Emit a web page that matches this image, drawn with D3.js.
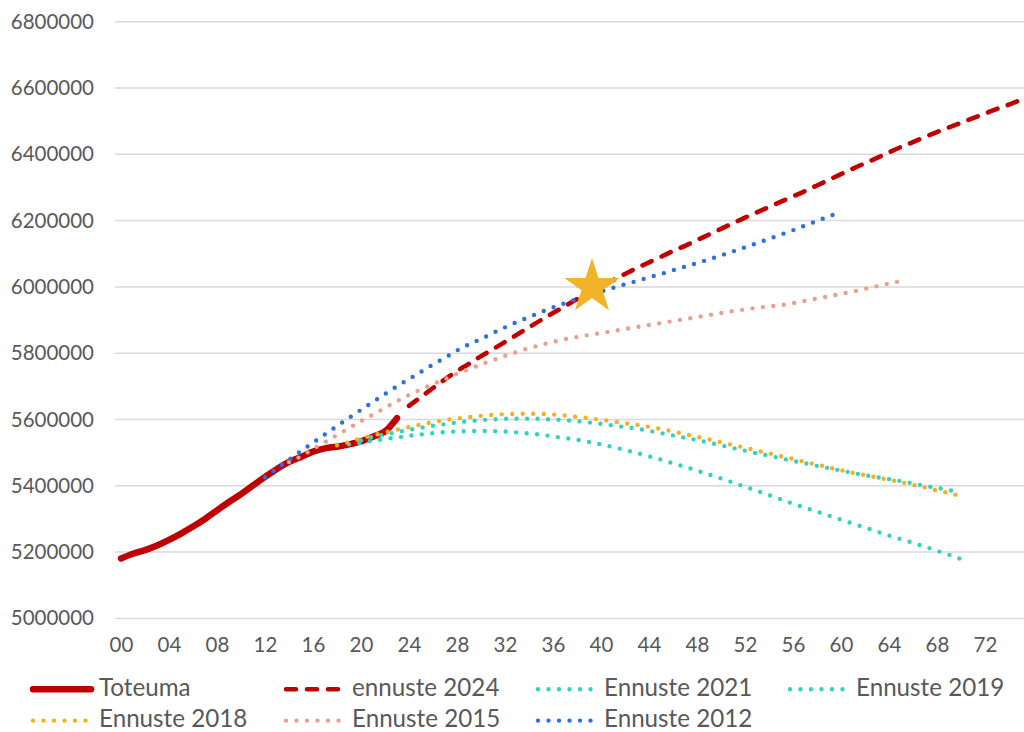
<!DOCTYPE html>
<html>
<head>
<meta charset="utf-8">
<script src="https://cdn.jsdelivr.net/npm/d3@7"></script>
<style>
  html, body { margin: 0; padding: 0; background: #ffffff; }
  svg { display: block; }
  text { font-family: Lato, "Liberation Sans", Arial, sans-serif; fill: #595959; }
</style>
</head>
<body>
<svg id="chart" width="1024" height="732"></svg>
<script>
// ---- Data: Finland's population, actual and successive projections ----
const xTickYears  = [2000, 2004, 2008, 2012, 2016, 2020, 2024, 2028, 2032, 2036, 2040, 2044, 2048, 2052, 2056, 2060, 2064, 2068, 2072];
const xTickLabels = ["00", "04", "08", "12", "16", "20", "24", "28", "32", "36", "40", "44", "48", "52", "56", "60", "64", "68", "72"];
const yTicks = [5000000, 5200000, 5400000, 5600000, 5800000, 6000000, 6200000, 6400000, 6600000, 6800000];

// first year of each series
const startYears = { toteuma: 2000, e2024: 2024, e2021: 2020, e2019: 2019, e2018: 2018, e2015: 2014, e2012: 2012 };

const toteuma = [5181000, 5195000, 5206000, 5220000, 5237000, 5256000, 5277000, 5300000, 5326000, 5351000,
                 5375000, 5401000, 5427000, 5451000, 5472000, 5487000, 5503000, 5513000, 5518000, 5525000,
                 5534000, 5548000, 5564000, 5604000];

const ennuste2024 = [5641000, 5668000, 5695000, 5721000, 5746000, 5768000, 5791000, 5812000, 5834000, 5856000,
                     5878000, 5900000, 5921000, 5942000, 5963000, 5983000, 6001000, 6020000, 6039000, 6057000,
                     6074000, 6091000, 6108000, 6124000, 6141000, 6158000, 6175000, 6192000, 6209000, 6225000,
                     6241000, 6257000, 6273000, 6289000, 6306000, 6323000, 6340000, 6357000, 6373000, 6389000,
                     6406000, 6422000, 6437000, 6452000, 6467000, 6481000, 6495000, 6509000, 6523000, 6537000,
                     6550000, 6564000];

const ennuste2021 = [5537000, 5548000, 5555000, 5562000, 5569000, 5575000, 5581000, 5586000, 5591000, 5595000,
                     5598000, 5600500, 5602000, 5602500, 5602500, 5602000, 5600000, 5598000, 5595000, 5591000,
                     5587000, 5582000, 5577000, 5572000, 5566000, 5559000, 5552000, 5545000, 5538000, 5530000,
                     5522000, 5514000, 5506000, 5498000, 5491000, 5483000, 5475000, 5468000, 5460000, 5453000,
                     5446000, 5439000, 5432000, 5426000, 5420000, 5414000, 5407000, 5400000, 5394000, 5387000,
                     5381000];

const ennuste2019 = [5525000, 5530000, 5536000, 5541000, 5546000, 5551000, 5555000, 5559000, 5562000, 5564000,
                     5565000, 5565500, 5565000, 5564000, 5561000, 5558000, 5554000, 5549000, 5544000, 5539000,
                     5532000, 5525000, 5517000, 5508000, 5499000, 5489000, 5479000, 5468000, 5457000, 5446000,
                     5434000, 5422000, 5410000, 5397000, 5385000, 5372000, 5359000, 5346000, 5334000, 5322000,
                     5310000, 5298000, 5286000, 5274000, 5262000, 5250000, 5239000, 5228000, 5216000, 5204000,
                     5192000, 5179000];

const ennuste2018 = [5522000, 5532000, 5543000, 5552000, 5561000, 5569000, 5577000, 5585000, 5592000, 5598000,
                     5603000, 5607000, 5611000, 5614000, 5616000, 5617000, 5617500, 5617000, 5615000, 5612000,
                     5608000, 5604000, 5599000, 5594000, 5589000, 5584000, 5578000, 5571000, 5564000, 5556000,
                     5548000, 5540000, 5531000, 5523000, 5515000, 5506000, 5498000, 5489000, 5481000, 5472000,
                     5464000, 5455000, 5447000, 5439000, 5432000, 5425000, 5418000, 5411000, 5403000, 5395000,
                     5386000, 5378000, 5369000];

const ennuste2015 = [5472000, 5489000, 5511000, 5532000, 5553000, 5574000, 5595000, 5615000, 5635000, 5655000,
                     5674000, 5691000, 5707000, 5722000, 5738000, 5752000, 5766000, 5779000, 5792000, 5804000,
                     5815000, 5825000, 5834000, 5842000, 5849000, 5855000, 5861000, 5867000, 5873000, 5879000,
                     5885000, 5891000, 5897000, 5903000, 5909000, 5915000, 5921000, 5927000, 5932000, 5937000,
                     5941000, 5945000, 5951000, 5958000, 5965000, 5972000, 5979000, 5986000, 5994000, 6002000,
                     6010000, 6018000];

const ennuste2012 = [5426000, 5453000, 5479000, 5505000, 5530000, 5555000, 5580000, 5605000, 5629000, 5653000,
                     5677000, 5700000, 5722000, 5744000, 5766000, 5786000, 5808000, 5827000, 5843000, 5861000,
                     5878000, 5894000, 5909000, 5924000, 5938000, 5951000, 5963000, 5975000, 5986000, 5997000,
                     6008000, 6018000, 6029000, 6039000, 6050000, 6061000, 6072000, 6083000, 6095000, 6107000,
                     6119000, 6132000, 6145000, 6158000, 6171000, 6185000, 6199000, 6213000, 6227000];

// star marker: [year, population]
const starPoint = [2039.25, 6000000];

// ---- Series styling ----
const RED = "#C00000", TURQ = "#30D3C3", GOLD = "#F5B021", SALMON = "#E9A08E", BLUE = "#2F6FE5";
const SOLID = { width: 6.5, dash: null };
const DASHED = { width: 4.6, dash: "10,11" };
const DOTTED = { width: 4.4, dash: "0,10.5" };

const series = [
  { name: "Toteuma",      values: toteuma,     start: startYears.toteuma, color: RED,    style: SOLID },
  { name: "ennuste 2024", values: ennuste2024, start: startYears.e2024,   color: RED,    style: DASHED },
  { name: "Ennuste 2021", values: ennuste2021, start: startYears.e2021,   color: TURQ,   style: DOTTED },
  { name: "Ennuste 2019", values: ennuste2019, start: startYears.e2019,   color: TURQ,   style: DOTTED },
  { name: "Ennuste 2018", values: ennuste2018, start: startYears.e2018,   color: GOLD,   style: DOTTED },
  { name: "Ennuste 2015", values: ennuste2015, start: startYears.e2015,   color: SALMON, style: DOTTED },
  { name: "Ennuste 2012", values: ennuste2012, start: startYears.e2012,   color: BLUE,   style: DOTTED }
];

// ---- Layout ----
const svg = d3.select("#chart");
const plotLeft = 115, plotRight = 1027, plotTop = 21.7, plotBottom = 618.4;

const x = d3.scaleLinear().domain([1999.5, 2075.5]).range([plotLeft, plotRight]);
const y = d3.scaleLinear().domain([5000000, 6800000]).range([plotBottom, plotTop]);

// horizontal gridlines
svg.append("g")
  .selectAll("line")
  .data(yTicks)
  .join("line")
  .attr("x1", plotLeft).attr("x2", 1024)
  .attr("y1", d => y(d)).attr("y2", d => y(d))
  .attr("stroke", "#D9D9D9")
  .attr("stroke-width", 1.5);

// y axis labels
const yAxis = svg.append("g")
  .attr("transform", `translate(${plotLeft},0)`)
  .call(d3.axisLeft(y).tickValues(yTicks).tickFormat(d3.format("d")).tickSize(0).tickPadding(21));
yAxis.select(".domain").remove();
yAxis.selectAll("text").attr("font-size", 20.5).attr("fill", "#595959")
  .style("font-family", "Lato, 'Liberation Sans', Arial, sans-serif");

// x axis labels
const xAxis = svg.append("g")
  .attr("transform", `translate(0,${plotBottom})`)
  .call(d3.axisBottom(x).tickValues(xTickYears).tickFormat((d, i) => xTickLabels[i]).tickSize(0).tickPadding(19.5));
xAxis.select(".domain").remove();
xAxis.selectAll("text").attr("font-size", 20.5).attr("fill", "#595959")
  .style("font-family", "Lato, 'Liberation Sans', Arial, sans-serif");

// ---- Lines ----
const line = d3.line()
  .x(d => x(d[0]))
  .y(d => y(d[1]))
  .curve(d3.curveMonotoneX);

const lines = svg.append("g").attr("fill", "none");
series.forEach(s => {
  const pts = s.values.map((v, i) => [s.start + i, v]);
  lines.append("path")
    .datum(pts)
    .attr("d", line)
    .attr("stroke", s.color)
    .attr("stroke-width", s.style.width)
    .attr("stroke-linecap", "round")
    .attr("stroke-linejoin", "round")
    .attr("stroke-dasharray", s.style.dash);
});

// star marker
const starR = 29;
svg.append("path")
  .attr("d", d3.symbol(d3.symbolStar, starR * starR / 0.8908130915292852)())
  .attr("transform", `translate(${x(starPoint[0])},${y(starPoint[1])})`)
  .attr("fill", "#F2B229");

// ---- Legend ----
const legendCols = [30, 283, 535, 787];
const legendRows = [689.3, 720.6];
const legend = svg.append("g");
series.forEach((s, i) => {
  const cx = legendCols[i % 4];
  const ry = legendRows[Math.floor(i / 4)];
  const g = legend.append("g");
  g.append("line")
    .attr("x1", cx + 3).attr("x2", cx + 61)
    .attr("y1", ry).attr("y2", ry)
    .attr("stroke", s.color)
    .attr("stroke-width", s.style.width)
    .attr("stroke-linecap", "round")
    .attr("stroke-dasharray", s.style.dash);
  g.append("text")
    .attr("x", cx + 69)
    .attr("y", ry + 6.8)
    .attr("font-size", 24.2)
    .text(s.name);
});
</script>
</body>
</html>
